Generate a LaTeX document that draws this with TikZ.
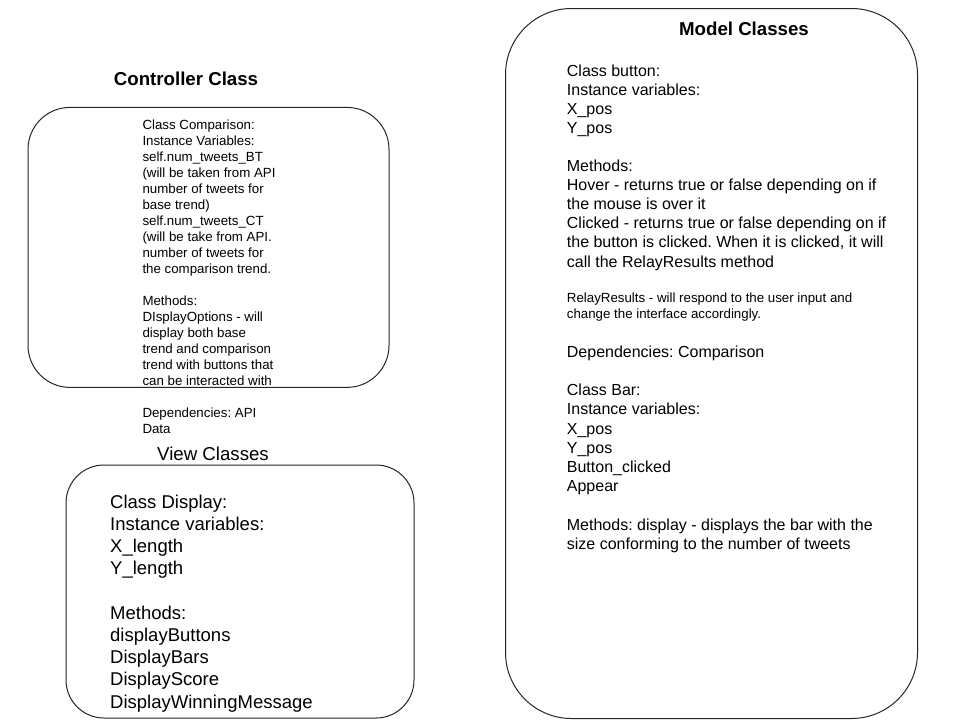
\documentclass[tikz,border=0pt]{standalone}
\usepackage{fontspec}
\setmainfont{Liberation Sans}
\frenchspacing
\begin{document}
\begin{tikzpicture}[x=1pt,y=-1pt,
  box/.style={draw=black!85, line width=1pt, inner sep=0pt},
  txt/.style={anchor=base west, inner sep=0pt},
  ttl/.style={anchor=base, inner sep=0pt, font=\fontsize{18.67}{22}\selectfont}]
\useasboundingbox (0,0) rectangle (960,720);
\fill[white] (0,0) rectangle (960,720);
% boxes
\node[box, rounded corners=42pt, minimum width=361pt, minimum height=280pt] (ctrlbox) at (208.5,247.4) {};
\node[box, rounded corners=66pt, minimum width=412pt, minimum height=710pt] (modelbox) at (711.5,363.5) {};
\node[box, rounded corners=38pt, minimum width=348pt, minimum height=253pt] (viewbox) at (240,591.5) {};
% titles
\node[ttl, font=\fontsize{18.67}{22}\selectfont\bfseries] (ctrltitle) at (186,85.3) {Controller Class};
\node[ttl, font=\fontsize{18.67}{22}\selectfont\bfseries] (modeltitle) at (744,35) {Model Classes};
\node[ttl] (viewtitle) at (213,460.7) {View Classes};
% controller text
\node[txt, font=\fontsize{13.3}{16}\selectfont] (ctrltext) at (142.3,129) {%
\begin{tabular}[t]{@{}l@{}}
Class Comparison:\\
Instance Variables:\\
self.num\_tweets\_BT\\
(will be taken from API\\
number of tweets for\\
base trend)\\
self.num\_tweets\_CT\\
(will be take from API.\\
number of tweets for\\
the comparison trend.\\
\\
Methods:\\
DIsplayOptions - will\\
display both base\\
trend and comparison\\
trend with buttons that\\
can be interacted with\\
\\
Dependencies: API\\
Data
\end{tabular}};
% model text
\node[txt, font=\fontsize{16}{19.1}\selectfont] (modeltext1) at (566.7,76) {%
\begin{tabular}[t]{@{}l@{}}
Class button:\\
Instance variables:\\
X\_pos\\
Y\_pos\\
\\
Methods:\\
Hover - returns true or false depending on if\\
the mouse is over it\\
Clicked - returns true or false depending on if\\
the button is clicked. When it is clicked, it will\\
call the RelayResults method
\end{tabular}};
\node[txt, font=\fontsize{13.3}{15.8}\selectfont] (modeltext2) at (566.7,302.7) {%
\begin{tabular}[t]{@{}l@{}}
RelayResults - will respond to the user input and\\
change the interface accordingly.
\end{tabular}};
\node[txt, font=\fontsize{16}{19.2}\selectfont] (modeltext3) at (566.7,357.3) {%
\begin{tabular}[t]{@{}l@{}}
Dependencies: Comparison\\
\\
Class Bar:\\
Instance variables:\\
X\_pos\\
Y\_pos\\
Button\_clicked\\
Appear\\
\\
Methods: display - displays the bar with the\\
size conforming to the number of tweets
\end{tabular}};
% view text
\node[txt, font=\fontsize{18.5}{22.2}\selectfont] (viewtext) at (110,508.3) {%
\begin{tabular}[t]{@{}l@{}}
Class Display:\\
Instance variables:\\
X\_length\\
Y\_length\\
\\
Methods:\\
displayButtons\\
DisplayBars\\
DisplayScore\\
DisplayWinningMessage
\end{tabular}};
\end{tikzpicture}
\end{document}
